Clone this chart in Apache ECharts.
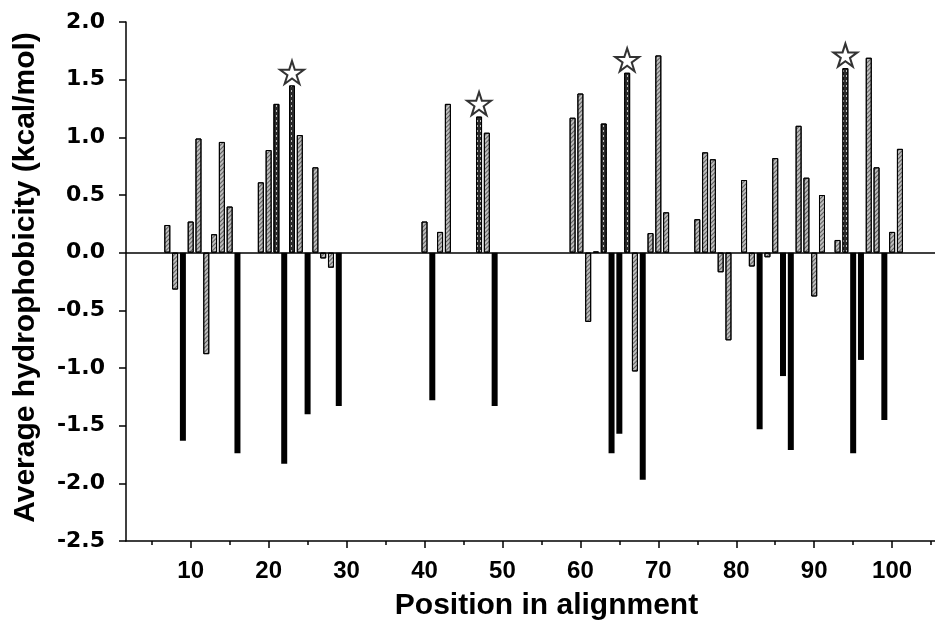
<!DOCTYPE html>
<html>
<head>
<meta charset="utf-8">
<script src="https://cdn.jsdelivr.net/npm/echarts@6/dist/echarts.min.js"></script>
<style>
  html, body { margin: 0; padding: 0; background: #fff; }
  #chart { width: 935px; height: 631px; }
</style>
</head>
<body>
<div id="chart"></div>
<script>
// Average hydrophobicity per alignment position (kcal/mol)
const hatchedPos = [7, 8, 10, 11, 12, 13, 14, 15, 19, 20, 24, 26, 27, 28, 40, 42, 43, 48,
                    59, 60, 61, 62, 67, 69, 70, 71, 75, 76, 77, 78, 79, 81, 82, 84, 85,
                    88, 89, 90, 91, 93, 97, 98, 100, 101];
const hatchedVal = [0.24, -0.32, 0.27, 0.99, -0.88, 0.16, 0.96, 0.40, 0.61, 0.89, 1.02, 0.74, -0.05, -0.13, 0.27, 0.18, 1.29, 1.04,
                    1.17, 1.38, -0.60, 0.01, -1.03, 0.17, 1.71, 0.35, 0.29, 0.87, 0.81, -0.17, -0.76, 0.63, -0.12, -0.04, 0.82,
                    1.10, 0.65, -0.38, 0.50, 0.11, 1.69, 0.74, 0.18, 0.90];

const dottedPos = [21, 23, 47, 63, 66, 94];
const dottedVal = [1.29, 1.45, 1.18, 1.12, 1.56, 1.60];

const solidPos = [9, 16, 22, 25, 29, 41, 49, 64, 65, 68, 83, 86, 87, 95, 96, 99];
const solidVal = [-1.63, -1.74, -1.83, -1.40, -1.33, -1.28, -1.33, -1.74, -1.57, -1.97, -1.53, -1.07, -1.71, -1.74, -0.93, -1.45];

// positions flagged with a star above the bar
const starredPos = [23, 47, 66, 94];

// axis ticks
const xLabelTicks = [10, 20, 30, 40, 50, 60, 70, 80, 90, 100];
const xMinorTicks = [5, 15, 25, 35, 45, 55, 65, 75, 85, 95, 105];

const pairs = (pos, val) => pos.map((p, i) => [p, val[i]]);
const starData = starredPos.map(p => [p, dottedVal[dottedPos.indexOf(p)]]);

const STAR = 'path://M50,2 L61.2,36.3 L97.6,36.3 L68.2,57.7 L79.4,92 L50,70.8 L20.6,92 L31.8,57.7 L2.4,36.3 L38.8,36.3 Z';
const SANS = 'Liberation Sans, Arial, sans-serif';
const WIDE = 'DejaVu Sans, Verdana, sans-serif';

const chart = echarts.init(document.getElementById('chart'), null, { renderer: 'canvas' });

const xCommon = { type: 'value', min: 1.7, max: 105.5, splitLine: { show: false } };

chart.setOption({
  animation: false,
  backgroundColor: '#fff',
  grid: { left: 126, right: 0, top: 22, bottom: 90, containLabel: false },
  xAxis: [
    Object.assign({}, xCommon, {
      name: 'Position in alignment',
      nameLocation: 'middle',
      nameGap: 50,
      nameTextStyle: { fontFamily: SANS, fontWeight: 'bold', fontSize: 30, color: '#000', padding: [0, 0, 0, 32] },
      axisLine: { onZero: false, lineStyle: { color: '#000', width: 1.5 } },
      axisTick: { customValues: xLabelTicks, length: 7, lineStyle: { color: '#000', width: 1.5 } },
      axisLabel: { customValues: xLabelTicks, margin: 18, fontFamily: SANS, fontWeight: 'bold', fontSize: 24, color: '#000' }
    }),
    Object.assign({}, xCommon, {
      position: 'bottom',
      axisLine: { show: false, onZero: false },
      axisTick: { customValues: xMinorTicks, length: 4, lineStyle: { color: '#000', width: 1.5 } },
      axisLabel: { show: false }
    })
  ],
  yAxis: {
    type: 'value',
    min: -2.5,
    max: 2.0,
    interval: 0.5,
    name: 'Average hydrophobicity (kcal/mol)',
    nameLocation: 'middle',
    nameGap: 85,
    nameTextStyle: { fontFamily: SANS, fontWeight: 'bold', fontSize: 30, color: '#000', padding: [0, 0, 0, 8] },
    splitLine: { show: false },
    axisLine: { show: true, onZero: false, lineStyle: { color: '#000', width: 1.5 } },
    axisTick: { show: true, length: 7, lineStyle: { color: '#000', width: 1.5 } },
    axisLabel: {
      margin: 21, fontFamily: WIDE, fontWeight: 'bold', fontSize: 22, color: '#000',
      formatter: v => v.toFixed(1)
    }
  },
  series: [
    {
      name: 'hatched',
      type: 'bar',
      barWidth: 6,
      barGap: '-100%',
      data: pairs(hatchedPos, hatchedVal),
      itemStyle: {
        color: '#bdbdbd',
        borderColor: '#000',
        borderWidth: 1,
        decal: {
          symbol: 'rect',
          color: 'rgba(0,0,0,0.5)',
          dashArrayX: [1, 0],
          dashArrayY: [1, 2],
          rotation: -Math.PI / 4
        }
      },
      markLine: {
        silent: true,
        symbol: 'none',
        label: { show: false },
        lineStyle: { color: '#000', width: 1.5, type: 'solid' },
        data: [{ yAxis: 0 }]
      }
    },
    {
      name: 'dotted',
      type: 'bar',
      barWidth: 6,
      barGap: '-100%',
      data: pairs(dottedPos, dottedVal),
      itemStyle: {
        color: '#2a2a2a',
        borderColor: '#000',
        borderWidth: 1,
        decal: {
          symbol: 'rect',
          color: 'rgba(255,255,255,0.7)',
          dashArrayX: [[1, 2]],
          dashArrayY: [2, 3],
          rotation: 0
        }
      }
    },
    {
      name: 'solid',
      type: 'bar',
      barWidth: 6,
      barGap: '-100%',
      data: pairs(solidPos, solidVal),
      itemStyle: { color: '#000' }
    },
    {
      name: 'stars',
      type: 'scatter',
      data: starData,
      symbol: STAR,
      symbolSize: [24, 23],
      symbolOffset: [0, -13],
      itemStyle: { color: '#fff', borderColor: '#000', borderWidth: 2 },
      z: 5
    }
  ]
});
</script>
</body>
</html>
